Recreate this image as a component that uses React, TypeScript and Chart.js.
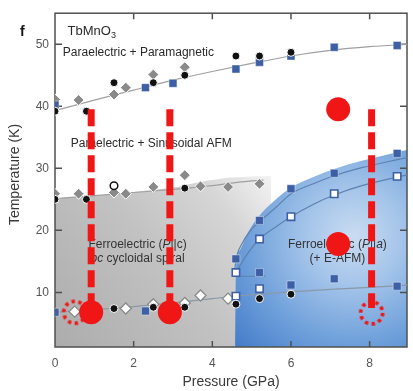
import React, { useEffect, useRef } from 'react';
import { Chart, registerables } from 'chart.js';
Chart.register(...registerables);

type P = [number, number];

const X_TICKS = [0, 2, 4, 6, 8];
const Y_TICKS = [10, 20, 30, 40, 50];
const X_MIN = 0, X_MAX = 8.95, Y_MIN = 1.2, Y_MAX = 55;

// phase boundaries (guide-to-eye curves)
const topCurve: P[] = [[0, 39.3], [1, 41.0], [2, 42.6], [3, 44.2], [4, 45.6], [5, 46.9], [6, 48.1], [7, 49.0], [8, 49.6], [9, 50.0]];
const midCurve: P[] = [[0, 25.1], [1, 25.6], [2, 26.1], [3, 26.6], [4, 27.2], [4.75, 27.8], [5.3, 28.1]];
const lowCurve: P[] = [[0, 6.8], [1, 7.2], [2, 7.7], [3, 8.3], [4, 9.0], [4.75, 9.5], [6, 10.1], [7, 10.5], [8, 10.8], [9, 11.2]];
const grayEdge: P[] = [[0, 25.1], [1, 25.6], [2, 26.2], [3, 26.9], [3.7, 27.8], [4.5, 28.5], [5.5, 28.8]];
const blueEdge: P[] = [[4.58, 1.2], [4.6, 13.5], [4.7, 16.8], [4.9, 19.6], [5.2, 22.4], [5.6, 24.9], [6.0, 26.9], [6.6, 28.7], [7.1, 29.9], [7.8, 31.2], [8.7, 32.6], [9.0, 33.0]];
const outerCurve: P[] = [[4.57, 13.5], [4.6, 15.2], [4.75, 17.8], [5.0, 20.2], [5.2, 21.4], [5.6, 23.6], [6.0, 25.9], [6.6, 27.6], [7.1, 28.8], [7.8, 30.1], [8.7, 31.4], [9.0, 31.8]];
const innerCurve: P[] = [[4.6, 13.2], [4.9, 16.3], [5.2, 18.6], [5.6, 20.5], [6.0, 22.2], [6.6, 24.3], [7.1, 25.7], [7.8, 27.2], [8.7, 28.6], [9.0, 29.0]];
const innerStub: P[] = [[4.6, 12.6], [5.35, 12.6]];

// measured points
const grayDiamonds: P[] = [[0, 41.1], [0.6, 41], [1.5, 41.9], [1.8, 43], [2.5, 45.1], [3.3, 46.3], [0, 25.9], [0.6, 25.9], [1.5, 26.1], [1.8, 25.9], [2.5, 27.0], [3.3, 28.9], [3.7, 27.1], [4.4, 27.0], [5.2, 27.5]];
const openDiamonds: P[] = [[0.5, 6.9], [1.8, 7.4], [2.5, 8.1], [3.3, 8.3], [3.7, 9.5], [4.4, 9.0]];
const blackDots: P[] = [[0, 39.2], [0.8, 39.2], [1.5, 43.8], [2.5, 43.8], [3.3, 45], [4.6, 48.1], [5.2, 48.1], [6.0, 48.7], [0, 25.0], [0.8, 25.0], [3.3, 26.8], [1.5, 7.4], [2.5, 7.6], [3.3, 7.6], [4.6, 8.1], [5.2, 9.0], [6.0, 9.7]];
const openCircles: P[] = [[1.5, 27.2]];
const blueSquares: P[] = [[0, 40.2], [2.3, 43], [3.0, 43.7], [4.6, 46], [5.2, 47.1], [6.0, 48.1], [7.1, 49.5], [8.7, 49.8], [4.6, 15.4], [5.2, 21.6], [6.0, 26.7], [7.1, 29.2], [8.7, 32.4], [5.2, 13.2], [6.0, 11.2], [7.1, 12.2], [8.7, 11.0], [0, 6.8], [2.3, 7.0]];
const openSquares: P[] = [[4.6, 13.2], [5.2, 18.6], [6.0, 22.2], [7.1, 25.9], [8.7, 28.7], [4.6, 9.4], [5.2, 10.6]];

// red markers
const redDots: P[] = [[0.92, 6.8], [2.92, 6.8], [7.2, 39.5], [7.2, 17.8]];
const redRings: P[] = [[0.5, 6.8], [8.05, 6.7]];
const dashPressures = [0.92, 2.92, 8.05];
const dashTop = 39.5;
const dashBottom = 7.5;

const FONT = '"Liberation Sans", Arial, Helvetica, sans-serif';
const RED = '#f01616';

const toXY = (a: P[]) => a.map(([x, y]) => ({ x, y }));

function makeRing(r: number, color: string) {
  const c = document.createElement('canvas');
  const s = Math.ceil(r * 2 + 8);
  c.width = s; c.height = s;
  const g = c.getContext('2d')!;
  g.strokeStyle = color;
  g.lineWidth = 3.6;
  g.setLineDash([3.4, 3.5]);
  g.beginPath();
  g.arc(s / 2, s / 2, r, 0, Math.PI * 2);
  g.stroke();
  return c;
}

type Seg = { t: string; f: string; dy?: number };
function drawRich(ctx: CanvasRenderingContext2D, segs: Seg[], x: number, y: number, align: 'left' | 'center') {
  let w = 0;
  segs.forEach(s => { ctx.font = s.f; w += ctx.measureText(s.t).width; });
  let cx = align === 'center' ? x - w / 2 : x;
  ctx.textAlign = 'left';
  ctx.textBaseline = 'middle';
  segs.forEach(s => { ctx.font = s.f; ctx.fillText(s.t, cx, y + (s.dy || 0)); cx += ctx.measureText(s.t).width; });
}

const decor = {
  id: 'decor',
  afterDatasetDraw(chart: any, args: any) {
    const ds = chart.data.datasets[args.index];
    if (ds.key !== 'blueRegion') return;
    const ctx: CanvasRenderingContext2D = chart.ctx;
    const { left, right, top, bottom } = chart.chartArea;
    const xs = chart.scales.x, ys = chart.scales.y;
    const X = (v: number) => xs.getPixelForValue(v);
    const Y = (v: number) => ys.getPixelForValue(v);
    ctx.save();
    ctx.strokeStyle = '#505050';
    ctx.lineWidth = 1.5;
    ctx.strokeRect(left, top, right - left, bottom - top);
    ctx.beginPath();
    X_TICKS.forEach(v => {
      if (v === X_MIN) return;
      const p = X(v);
      ctx.moveTo(p, bottom); ctx.lineTo(p, bottom - 6);
      ctx.moveTo(p, top); ctx.lineTo(p, top + 6);
    });
    Y_TICKS.forEach(v => {
      const p = Y(v);
      ctx.moveTo(left, p); ctx.lineTo(left + 7, p);
      ctx.moveTo(right, p); ctx.lineTo(right - 7, p);
    });
    ctx.stroke();

    ctx.fillStyle = '#2a2a2a';
    const f12 = `12px ${FONT}`;
    const i12 = `italic 12px ${FONT}`;
    drawRich(ctx, [{ t: 'TbMnO', f: `13px ${FONT}` }, { t: '3', f: `9px ${FONT}`, dy: 4 }], X(0.32), Y(52.0), 'left');
    drawRich(ctx, [{ t: 'Paraelectric + Paramagnetic', f: f12 }], X(0.2), Y(48.6), 'left');
    drawRich(ctx, [{ t: 'Paraelectric + Sinusoidal AFM', f: f12 }], X(0.4), Y(33.9), 'left');
    ctx.fillStyle = '#333';
    drawRich(ctx, [{ t: 'Ferroelectric (', f: f12 }, { t: 'P', f: i12 }, { t: '||c)', f: f12 }], X(2.1), Y(17.7), 'center');
    drawRich(ctx, [{ t: 'bc', f: i12 }, { t: ' cycloidal spiral', f: f12 }], X(2.1), Y(15.4), 'center');
    drawRich(ctx, [{ t: 'Ferroelectric (', f: f12 }, { t: 'P', f: i12 }, { t: '||', f: f12 }, { t: 'a', f: i12 }, { t: ')', f: f12 }], X(7.18), Y(17.7), 'center');
    drawRich(ctx, [{ t: '(+ E-AFM)', f: f12 }], X(7.18), Y(15.4), 'center');

    ctx.fillStyle = '#111';
    drawRich(ctx, [{ t: 'f', f: `bold 14px ${FONT}` }], left - 35, top + 19, 'left');

    ctx.fillStyle = '#3a3a3a';
    ctx.font = `14px ${FONT}`;
    ctx.textAlign = 'center';
    ctx.textBaseline = 'middle';
    ctx.fillText('Pressure (GPa)', (left + right) / 2, bottom + 35);
    ctx.save();
    ctx.translate(15, Y(29));
    ctx.rotate(-Math.PI / 2);
    ctx.fillText('Temperature (K)', 0, 0);
    ctx.restore();
    ctx.restore();
  }
};

function lineDs(data: P[], color: string, order: number, width = 1.2) {
  return {
    type: 'line', data: toXY(data), borderColor: color, borderWidth: width,
    pointRadius: 0, fill: false, cubicInterpolationMode: 'monotone', order,
  };
}

function markerDs(data: P[], style: any, radius: number, bg: string, border: string, bw: number, order: number) {
  return {
    type: 'scatter', data: toXY(data), pointStyle: style, pointRadius: radius,
    backgroundColor: bg, borderColor: border, borderWidth: bw, order,
  };
}

export default function App() {
  const ref = useRef<HTMLCanvasElement>(null);
  useEffect(() => {
    if (!ref.current) return;
    const ring = makeRing(11, RED);
    const datasets: any[] = [
      {
        key: 'grayRegion', type: 'line', data: toXY(grayEdge), fill: 'start', borderWidth: 0,
        pointRadius: 0, tension: 0.3, order: 100,
        backgroundColor: (c: any) => {
          const ch = c.chart;
          if (!ch.chartArea) return '#c0c0c0';
          const x0 = ch.scales.x.getPixelForValue(0), y0 = ch.scales.y.getPixelForValue(Y_MIN);
          const x1 = ch.scales.x.getPixelForValue(5.4), y1 = ch.scales.y.getPixelForValue(29);
          const g = ch.ctx.createLinearGradient(x0, y0, x1, y1);
          g.addColorStop(0, '#acacac');
          g.addColorStop(0.5, '#c2c2c2');
          g.addColorStop(0.8, '#d6d6d6');
          g.addColorStop(1, '#f2f2f2');
          return g;
        },
      },
      {
        key: 'blueRegion', type: 'line', data: toXY(blueEdge), fill: 'start', borderWidth: 0,
        pointRadius: 0, cubicInterpolationMode: 'monotone', order: 90,
        backgroundColor: (c: any) => {
          const ch = c.chart;
          if (!ch.chartArea) return '#7aa6dc';
          const cx = ch.scales.x.getPixelForValue(7.6), cy = ch.scales.y.getPixelForValue(19);
          const g = ch.ctx.createRadialGradient(cx, cy, 0, cx, cy, 170);
          g.addColorStop(0, '#cadcf2');
          g.addColorStop(0.3, '#a2c3e9');
          g.addColorStop(0.65, '#6b9dd9');
          g.addColorStop(1, '#3c76c6');
          return g;
        },
      },
      lineDs(topCurve, '#a0a0a0', 80),
      lineDs(midCurve, '#a0a0a0', 80),
      lineDs(lowCurve, '#8a98a8', 80),
      lineDs(outerCurve, '#5d82b0', 80),
      lineDs(innerCurve, '#5d82b0', 80),
      lineDs(innerStub, '#5d82b0', 80),
      markerDs(grayDiamonds, 'rectRot', 5.5, '#8a8a8a', '#ffffff', 1, 60),
      markerDs(openDiamonds, 'rectRot', 5.5, '#ffffff', '#8a8a8a', 1.3, 59),
      markerDs(openSquares, 'rect', 5.2, '#ffffff', '#3d5fa6', 1.6, 57),
      markerDs(blueSquares, 'rect', 5.6, '#3d5fa6', 'rgba(255,255,255,0.5)', 0.8, 56),
      markerDs(blackDots, 'circle', 4, '#111111', '#ffffff', 1, 55),
      markerDs(openCircles, 'circle', 3.8, '#ffffff', '#111111', 1.5, 54),
      ...dashPressures.map(p => ({
        type: 'line', data: [{ x: p, y: dashTop }, { x: p, y: dashBottom }], borderColor: RED,
        borderWidth: 7, borderDash: [17, 6], borderCapStyle: 'butt', pointRadius: 0, fill: false, order: 20,
      })),
      { type: 'scatter', data: toXY(redRings), pointStyle: ring, pointRadius: 12, order: 11 },
      markerDs(redDots, 'circle', 12, RED, RED, 0, 10),
    ];
    const chart = new Chart(ref.current, {
      type: 'scatter',
      data: { datasets },
      plugins: [decor],
      options: {
        animation: false,
        responsive: false,
        maintainAspectRatio: false,
        events: [],
        layout: { padding: { top: 10, right: 6, left: 0, bottom: 0 } },
        plugins: { legend: { display: false }, tooltip: { enabled: false } },
        scales: {
          x: {
            type: 'linear', min: X_MIN, max: X_MAX,
            border: { display: false },
            grid: { display: false, drawTicks: false },
            afterBuildTicks: (s: any) => { s.ticks = X_TICKS.map(v => ({ value: v })); },
            afterFit: (s: any) => { s.height = 44; },
            ticks: { padding: 9, autoSkip: false, maxRotation: 0, color: '#555', font: { family: FONT, size: 12 } },
          },
          y: {
            type: 'linear', min: Y_MIN, max: Y_MAX,
            border: { display: false },
            grid: { display: false, drawTicks: false },
            afterBuildTicks: (s: any) => { s.ticks = Y_TICKS.map(v => ({ value: v })); },
            afterFit: (s: any) => { s.width = 55; },
            ticks: { padding: 6, autoSkip: false, color: '#555', font: { family: FONT, size: 12 } },
          },
        },
      } as any,
    } as any);
    return () => chart.destroy();
  }, []);
  return (
    <div style={{ position: 'absolute', left: 0, top: 0, width: 413, height: 391, overflow: 'hidden', background: '#fff' }}>
      <canvas ref={ref} width={420} height={391} style={{ display: 'block', width: 420, height: 391 }} />
    </div>
  );
}
